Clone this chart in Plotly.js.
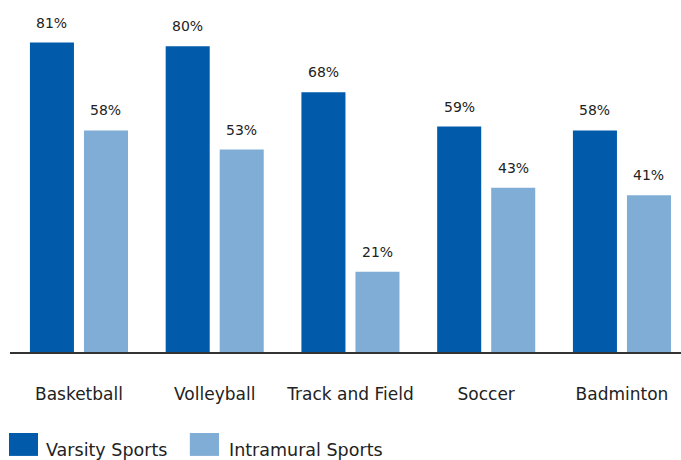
<!DOCTYPE html>
<html>
<head>
<meta charset="utf-8">
<script src="https://cdn.plot.ly/plotly-3.0.1.min.js"></script>
<style>html,body{margin:0;padding:0;background:#fff}#chart{width:681px;height:460px}</style>
</head>
<body>
<div id="chart"></div>
<script>
const categories = ["Basketball", "Volleyball", "Track and Field", "Soccer", "Badminton"];
const seriesNames = ["Varsity Sports", "Intramural Sports"];
const varsity = [81, 80, 68, 59, 58];
const intramural = [58, 53, 21, 43, 41];
const colors = ["#015BAA", "#80ADD5"];

const FONT = "DejaVu Sans, sans-serif";
const traces = [varsity, intramural].map((vals, i) => ({
  type: "bar",
  name: seriesNames[i],
  x: categories,
  y: vals,
  marker: {color: colors[i]},
  hoverinfo: "skip",
  showlegend: false
}));

const annotations = [];
[varsity, intramural].forEach((vals, i) => {
  vals.forEach((v, j) => {
    annotations.push({
      x: categories[j], y: v, xref: "x", yref: "y",
      text: v + "%", showarrow: false,
      xshift: i === 0 ? -27 : 27, yshift: 10, yanchor: "bottom",
      font: {family: FONT, size: 14, color: "#222"}
    });
  });
});
// legend
const legX = [[-0.0015, 0.0417], [0.268, 0.3115]];
const legTextX = [0.0505, 0.3235];
const shapes = [];
seriesNames.forEach((n, i) => {
  shapes.push({type: "rect", xref: "paper", yref: "paper", x0: legX[i][0], x1: legX[i][1],
    y0: -0.313, y1: -0.244, fillcolor: colors[i], line: {width: 0}});
  annotations.push({xref: "paper", yref: "paper", x: legTextX[i], y: -0.294,
    xanchor: "left", yanchor: "middle", text: n, showarrow: false,
    font: {family: FONT, size: 17.5, color: "#222"}});
});

const layout = {
  width: 681, height: 460,
  margin: {l: 10, r: 0, t: 20, b: 108},
  paper_bgcolor: "#fff", plot_bgcolor: "#fff",
  barmode: "group", bargap: 0.204, bargroupgap: 0.185,
  font: {family: FONT, size: 15, color: "#222"},
  xaxis: {range: [-0.508, 4.435], showline: true, linecolor: "#333", linewidth: 2,
    showgrid: false, zeroline: false, ticks: "", ticklabelstandoff: 26,
    tickfont: {family: FONT, size: 17, color: "#222"}, fixedrange: true},
  yaxis: {visible: false, range: [0, 86.9], fixedrange: true},
  annotations: annotations,
  shapes: shapes,
  showlegend: false
};
Plotly.newPlot("chart", traces, layout, {displayModeBar: false, staticPlot: true});
</script>
</body>
</html>
